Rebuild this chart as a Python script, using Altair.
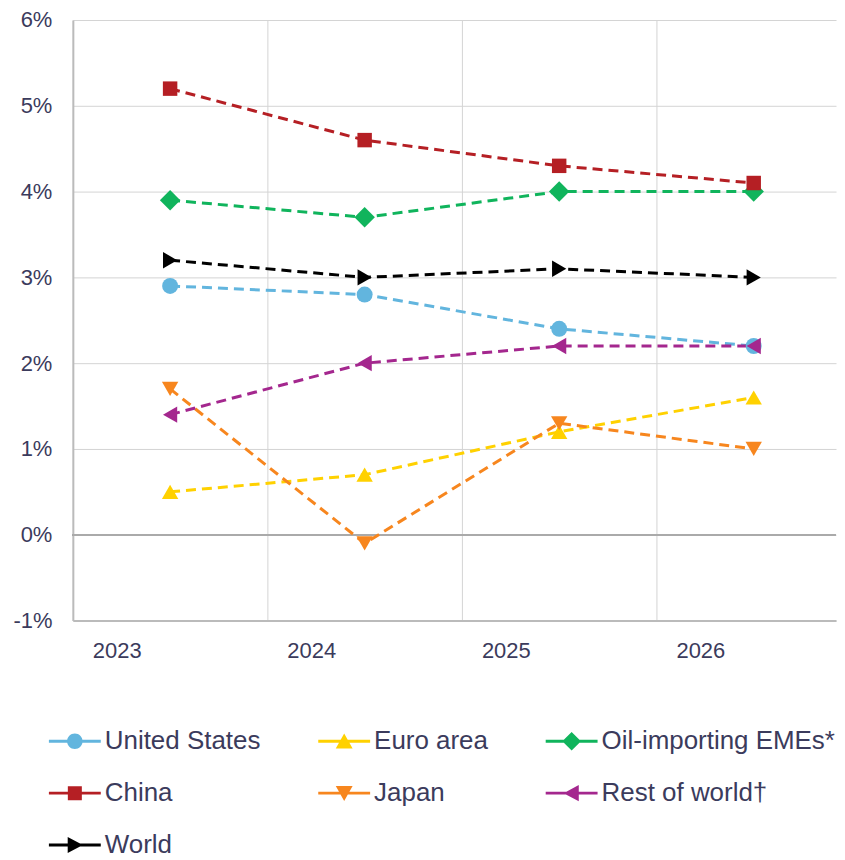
import altair as alt
import pandas as pd
import json

years = [2023, 2024, 2025, 2026]
series = ["United States", "Euro area", "Oil-importing EMEs*", "China", "Japan", "Rest of world†", "World"]
values = {
    "United States": [2.9, 2.8, 2.4, 2.2],
    "Euro area": [0.5, 0.7, 1.2, 1.6],
    "Oil-importing EMEs*": [3.9, 3.7, 4.0, 4.0],
    "China": [5.2, 4.6, 4.3, 4.1],
    "Japan": [1.7, -0.1, 1.3, 1.0],
    "Rest of world†": [1.4, 2.0, 2.2, 2.2],
    "World": [3.2, 3.0, 3.1, 3.0],
}
colors = ["#62B5DE", "#FFD100", "#10B45C", "#B51F24", "#F7861E", "#A4278E", "#000000"]
shapes = ["circle", "triangle-up", "diamond", "square", "triangle-down", "triangle-left", "triangle-right"]
sizes = [256, 270, 420, 210, 270, 270, 270]

# legend symbols: line segment + marker (unit-box paths, drawn to the right of the box)
line_path = "M -1,-0.11 L 3,-0.11 L 3,0.11 L -1,0.11 Z "
marker_paths = [
    "M 1.6,0 A 0.6,0.6 0 1,1 0.4,0 A 0.6,0.6 0 1,1 1.6,0 Z",
    "M 1,-0.6 L 1.65,0.55 L 0.35,0.55 Z",
    "M 1,-0.72 L 1.72,0 L 1,0.72 L 0.28,0 Z",
    "M 0.46,-0.54 L 1.54,-0.54 L 1.54,0.54 L 0.46,0.54 Z",
    "M 0.35,-0.55 L 1.65,-0.55 L 1,0.6 Z",
    "M 0.38,0 L 1.55,-0.62 L 1.55,0.62 Z",
    "M 1.62,0 L 0.45,0.62 L 0.45,-0.62 Z",
]
legend_paths = [line_path + p for p in marker_paths]

rows = []
for s in series:
    for y, v in zip(years, values[s]):
        rows.append({"series": s, "year": y, "value": v})
df = pd.DataFrame(rows)

text_color = "#3B3B5C"
font = "Liberation Sans"

size_expr = f"{json.dumps(sizes)}[indexof({json.dumps(series, ensure_ascii=False)}, datum.series)]"
base = alt.Chart(df).transform_calculate(mid="datum.year + 0.5", msize=size_expr)

x_enc = alt.X(
    "mid:Q",
    scale=alt.Scale(domain=[2023, 2026.923], nice=False, zero=False),
    axis=alt.Axis(
        values=years, format="d", title=None, ticks=False, labelOffset=44,
        labelFlush=False, labelPadding=20, labelFontSize=22, labelColor=text_color,
        labelFont=font, grid=True, gridColor="#D4D4D4", domainColor="#BBBBBB",
        domainWidth=2,
    ),
)
y_enc = alt.Y(
    "value:Q",
    scale=alt.Scale(domain=[-1, 6], nice=False),
    axis=alt.Axis(
        values=list(range(-1, 7)), labelExpr="datum.value + '%'", title=None,
        ticks=False, labelPadding=21, labelFontSize=22, labelColor=text_color,
        labelFont=font, grid=True, gridColor="#D4D4D4", domainColor="#BBBBBB",
        domainWidth=2,
    ),
)
color_scale = alt.Scale(domain=series, range=colors)

zero = alt.Chart(df).mark_rule(color="#AAAAAA", strokeWidth=1.5).encode(y=alt.datum(0))

lines = base.mark_line(strokeDash=[10, 6], strokeWidth=3).encode(
    x=x_enc, y=y_enc,
    color=alt.Color("series:N", scale=color_scale, legend=None),
    detail="series:N",
)
points = base.mark_point(filled=True, opacity=1).encode(
    x=x_enc, y=y_enc,
    color=alt.Color("series:N", scale=color_scale, legend=None),
    shape=alt.Shape("series:N", scale=alt.Scale(domain=series, range=shapes), legend=None),
    size=alt.Size("msize:Q", scale=None, legend=None),
)
main = alt.layer(zero, lines, points)

legend_layer = alt.Chart(df).transform_filter("false").mark_point(filled=True, opacity=1).encode(
    x=alt.X("mid:Q", scale=alt.Scale(domain=[2023, 2026.923], nice=False, zero=False)),
    y=alt.Y("value:Q", scale=alt.Scale(domain=[-1, 6], nice=False)),
    color=alt.Color(
        "series:N", scale=alt.Scale(domain=series, range=colors),
        legend=alt.Legend(
            title=None, orient="none", legendX=-24, legendY=710, columns=3,
            direction="horizontal",
            symbolSize=676, labelOffset=30, labelFontSize=26, labelFont=font,
            labelColor=text_color, columnPadding=57, rowPadding=26, padding=0,
            symbolStrokeWidth=0, gridAlign="each", labelLimit=400,
        ),
    ),
    shape=alt.Shape("series:N", scale=alt.Scale(domain=series, range=legend_paths)),
)

chart = alt.layer(main, legend_layer).resolve_scale(
    color="independent", shape="independent"
).properties(
    width=765, height=602,
    padding={"left": 4, "top": 0, "right": 0, "bottom": 0},
).configure_view(stroke=None)

chart.save("out.html", embed_options={"renderer": "svg", "actions": False})
